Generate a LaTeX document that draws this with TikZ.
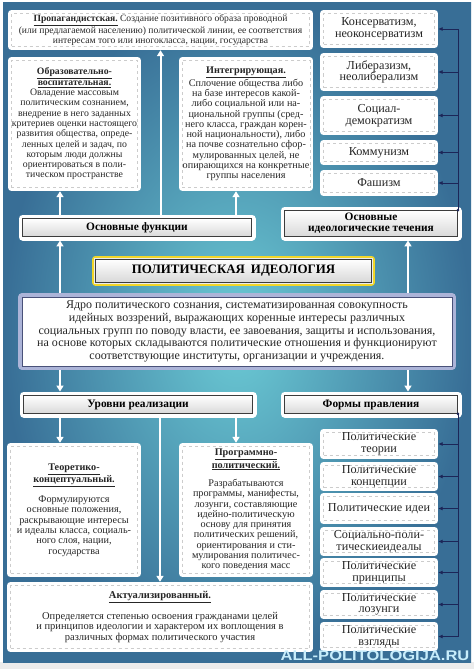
\documentclass[tikz,border=0pt]{standalone}
\usepackage{fontspec}
\setmainfont{Liberation Serif}
\setsansfont{Liberation Sans}
\usepackage{tikz}
\usetikzlibrary{arrows.meta}
\usetikzlibrary{calc}

\definecolor{frameblue}{RGB}{56,110,150}
\definecolor{tealmid}{RGB}{108,204,214}
\definecolor{navyline}{RGB}{28,38,88}
\definecolor{boxtext}{RGB}{38,38,38}
\definecolor{headborder}{RGB}{60,60,60}
\definecolor{lavender}{RGB}{172,180,216}
\definecolor{yelframe}{RGB}{242,214,40}

\tikzset{
  textbox/.style={draw=gray!40, dashed, fill=white, text=boxtext, align=center, inner sep=0.5pt,
    font=\fontsize{10.2}{10.3}\selectfont,
    preaction={draw=white, solid, line width=7pt, line join=round}},
  ideabox/.style={textbox, inner sep=0pt, font=\fontsize{12.2}{11.6}\selectfont},
  headbox/.style={draw=headborder, line width=0.9pt, top color=white, bottom color=gray!30,
    align=center, inner sep=0.5pt, font=\fontsize{11.4}{11.2}\selectfont\bfseries,
    preaction={draw=white, line width=8pt, line join=round}},
  warrow/.style={white, line width=2pt, -{Triangle[width=7pt,length=6pt]},
    shorten <=3.5pt, shorten >=3.5pt},
  narrow/.style={navyline, line width=0.8pt, -{Latex[length=4.5pt,width=4pt]}, shorten >=3.5pt}
}

\begin{document}
\begin{tikzpicture}[x=1pt, y=-1pt]
          \useasboundingbox (0,0) rectangle (474,669);
          \fill[white] (0,0) rectangle (474,669);
          \fill[gray!15] (0,662) rectangle (474,669);
          \shade[inner color=tealmid, outer color=frameblue] (3,3) rectangle (471,662);

          \node[textbox, minimum width=298pt, minimum height=33pt, font=\fontsize{9.6}{9.8}\selectfont] (prop) at (160.5,30)
            {\underline{\textbf{Пропагандистская.}} Создание позитивного образа проводной\\
             (или предлагаемой населению) политической линии, ее соответствия\\
             интересам того или иногокласса, нации, государства};

          \node[textbox, minimum width=126pt, minimum height=127pt, font=\fontsize{9.8}{10.3}\selectfont] (edu) at (74.5,124)
            {\underline{\textbf{Образовательно-}}\\\underline{\textbf{воспитательная.}}\\
             Овладение массовым\\политическим сознанием,\\внедрение в него заданных\\
             критериев оценки настоящего\\развития общества, опреде-\\ленных целей и задач, по\\
             которым люди должны\\ориентироваться в поли-\\тическом пространстве};

          \node[textbox, minimum width=127pt, minimum height=127pt] (integ) at (246,124)
            {\underline{\textbf{Интегрирующая.}}\\Сплочение общества либо\\на базе интересов какой-\\
             либо социальной или на-\\циональной группы (сред-\\него класса, граждан корен-\\
             ной национальности), либо\\на почве сознательно сфор-\\мулированных целей, не\\
             опирающихся на конкретные\\группы населения};

          \node[ideabox, minimum width=111pt, minimum height=31pt] (cons) at (379,29) {Консерватизм,\\неоконсерватизм};
          \node[ideabox, minimum width=111pt, minimum height=31pt] (lib) at (379,72) {Либеразизм,\\неолиберализм};
          \node[ideabox, minimum width=111pt, minimum height=32pt] (soc) at (379,115.5) {Социал-\\демократизм};
          \node[ideabox, minimum width=111pt, minimum height=18pt] (comm) at (379,152.5) {Коммунизм};
          \node[ideabox, minimum width=111pt, minimum height=19pt] (fasc) at (379,183) {Фашизм};

          \node[headbox, minimum width=229pt, minimum height=18pt] (func) at (137,227.5) {Основные функции};
          \node[headbox, minimum width=173pt, minimum height=26pt] (currents) at (371,223.5) {Основные\\идеологические течения};

          \node[draw=headborder, line width=0.9pt, top color=white, bottom color=gray!30,
                minimum width=276pt, minimum height=23pt, inner sep=0.5pt, font=\fontsize{12.9}{13}\selectfont\bfseries,
                preaction={draw=yelframe, line width=7pt, line join=round},
                preaction={draw=gray!15, line width=3pt}] (ideo) at (233.5,270.5)
            {ПОЛИТИЧЕСКАЯ\hspace{6pt}ИДЕОЛОГИЯ};

          \node[draw=navyline!80, line width=1pt, fill=white, text=boxtext, align=center,
                minimum width=430pt, minimum height=69pt, inner sep=0.5pt, font=\fontsize{12}{12.6}\selectfont,
                preaction={draw=lavender, line width=8pt, line join=round}] (core) at (237,331.5)
            {Ядро политического сознания, систематизированная совокупность\\
             идейных воззрений, выражающих коренные интересы различных\\
             социальных групп по поводу власти, ее завоевания, защиты и использования,\\
             на основе которых складываются политические отношения и функционируют\\
             соответствующие институты, организации и учреждения.};

          \node[headbox, minimum width=229pt, minimum height=18pt] (levels) at (138,404.5) {Уровни реализации};
          \node[headbox, minimum width=173pt, minimum height=18pt] (forms) at (371,404.5) {Формы правления};

          \node[textbox, minimum width=127pt, minimum height=127pt] (theor) at (74,510)
            {\underline{\textbf{Теоретико-}}\\\underline{\textbf{концептуальный.}}\\[8pt]
             Формулируются\\основные положения,\\раскрывающие интересы\\и идеалы класса, социаль-\\
             ного слоя, нации,\\государства};

          \node[textbox, minimum width=127pt, minimum height=127pt] (progr) at (246,510)
            {\underline{\textbf{Программно-}}\\\underline{\textbf{политический.}}\\[8pt]
             Разрабатываются\\программы, манифесты,\\лозунги, составляющие\\идейно-политическую\\
             основу для принятия\\политических решений,\\ориентирования и сти-\\
             мулирования политичес-\\кого поведения масс};

          \node[textbox, minimum width=299pt, minimum height=63pt, font=\fontsize{10.5}{10.3}\selectfont] (actual) at (160,617)
            {\underline{\textbf{Актуализированный.}}\\[8pt]
             Определяется степенью освоения гражданами целей\\
             и принципов идеологии и характером их воплощения в\\
             различных формах политического участия};

          \node[ideabox, minimum width=111pt, minimum height=23pt] (teor) at (379,444) {Политические\\теории};
          \node[ideabox, minimum width=111pt, minimum height=22pt] (konc) at (379,476.5) {Политические\\концепции};
          \node[ideabox, minimum width=111pt, minimum height=24pt] (idei) at (379,508.5) {Политические идеи};
          \node[ideabox, minimum width=111pt, minimum height=22pt] (ideal) at (379,541.5) {Социально-поли-\\тическиеидеалы};
          \node[ideabox, minimum width=111pt, minimum height=22pt] (princ) at (379,572.5) {Политические\\принципы};
          \node[ideabox, minimum width=111pt, minimum height=22pt] (lozung) at (379,604.5) {Политические\\лозунги};
          \node[ideabox, minimum width=111pt, minimum height=22pt] (vzgl) at (379,636.5) {Политические\\взгляды};

          \node[font=\sffamily\bfseries\fontsize{14}{14}\selectfont, text=white!78!cyan] (site) at (375,656)
            {\scalebox{1.18}[1]{ALL-POLITOLOGIJA.RU}};

          \draw[warrow] (func.north -| prop.south) -- (prop.south);
          \draw[warrow] (func.north -| 60,0) -- (edu.south -| 60,0);
          \draw[warrow] (func.north -| 236,0) -- (integ.south -| 236,0);
          \draw[warrow] (core.north -| 60,0) -- (func.south -| 60,0);
          \draw[warrow] (core.north -| 408,0) -- (currents.south -| 408,0);
          \draw[warrow] (core.south -| 60,0) -- (levels.north -| 60,0);
          \draw[warrow] (core.south -| 408,0) -- (forms.north -| 408,0);
          \draw[warrow] (levels.south -| 60,0) -- (theor.north -| 60,0);
          \draw[warrow] (levels.south -| 236,0) -- (progr.north -| 236,0);
          \draw[warrow] (levels.south -| actual.north) -- (actual.north);

          \foreach \n in {cons, lib, soc, comm, fasc}
            \draw[narrow] (currents.north east) |- (\n.east);
          \foreach \n in {teor, konc, idei, ideal, princ, lozung, vzgl}
            \draw[narrow] (forms.south east) |- (\n.east);
          \fill[navyline] (currents.north east) circle (1.5pt);
          \fill[navyline] (forms.south east) circle (1.5pt);
        \end{tikzpicture}
\end{document}
